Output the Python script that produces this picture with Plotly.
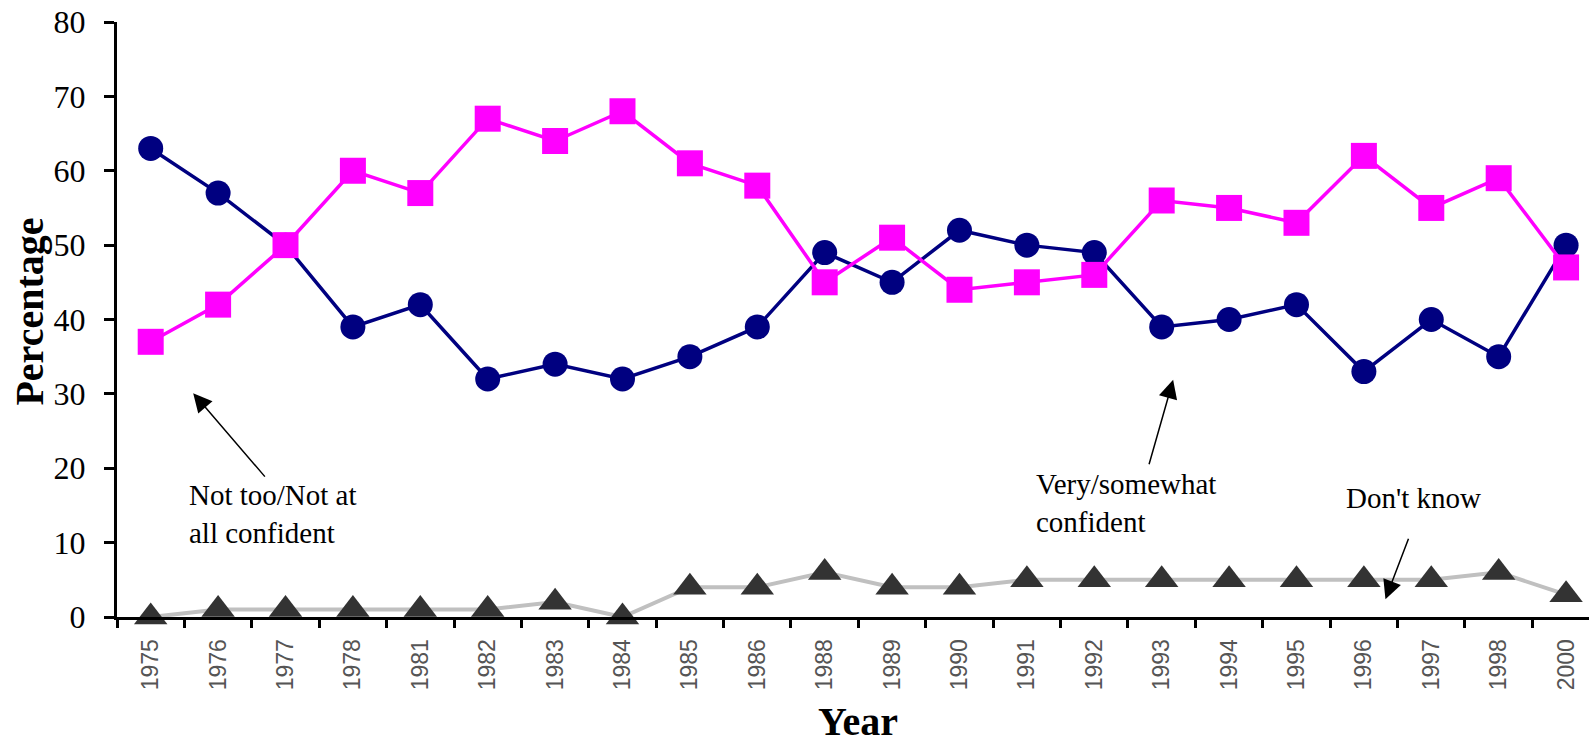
import plotly.graph_objects as go

years = ["1975", "1976", "1977", "1978", "1981", "1982", "1983", "1984", "1985", "1986", "1988",
         "1989", "1990", "1991", "1992", "1993", "1994", "1995", "1996", "1997", "1998", "2000"]
not_confident = [63, 57, 50, 39, 42, 32, 34, 32, 35, 39, 49, 45, 52, 50, 49, 39, 40, 42, 33, 40, 35, 50]
confident = [37, 42, 50, 60, 57, 67, 64, 68, 61, 58, 45, 51, 44, 45, 46, 56, 55, 53, 62, 55, 59, 47]
dont_know = [0, 1, 1, 1, 1, 1, 2, 0, 4, 4, 6, 4, 4, 5, 5, 5, 5, 5, 5, 5, 6, 3]
y_ticks = [0, 10, 20, 30, 40, 50, 60, 70, 80]

SERIF = "Liberation Serif, Times New Roman, serif"
SANS = "Liberation Sans, Arial, sans-serif"

fig = go.Figure()
fig.add_trace(go.Scatter(x=years, y=not_confident, mode="lines+markers",
                         line=dict(color="#000080", width=3.5),
                         marker=dict(symbol="circle", size=25, color="#000080"),
                         cliponaxis=False, name="Not too/Not at all confident"))
fig.add_trace(go.Scatter(x=years, y=confident, mode="lines+markers",
                         line=dict(color="#FF00FF", width=3.5),
                         marker=dict(symbol="square", size=26, color="#FF00FF"),
                         cliponaxis=False, name="Very/somewhat confident"))
fig.add_trace(go.Scatter(x=years, y=dont_know, mode="lines+markers",
                         line=dict(color="#C0C0C0", width=4),
                         marker=dict(symbol="triangle-up", size=29, color="#333333"),
                         cliponaxis=False, name="Don't know"))

annotations = [
    # text labels
    dict(x=0.54, y=13.9, xref="x", yref="y", text="Not too/Not at<br>all confident",
         showarrow=False, xanchor="left", yanchor="middle", align="left",
         font=dict(family=SERIF, size=29, color="black")),
    dict(x=13.10, y=15.3, xref="x", yref="y", text="Very/somewhat<br>confident",
         showarrow=False, xanchor="left", yanchor="middle", align="left",
         font=dict(family=SERIF, size=29, color="black")),
    dict(x=17.71, y=16.0, xref="x", yref="y", text="Don't know",
         showarrow=False, xanchor="left", yanchor="middle", align="left",
         font=dict(family=SERIF, size=29, color="black")),
    # arrows
    dict(x=0.63, y=30.1, xref="x", yref="y", text="", showarrow=True,
         ax=73, ay=85, arrowhead=2, arrowsize=2.5, arrowwidth=1.5, arrowcolor="black"),
    dict(x=15.17, y=31.9, xref="x", yref="y", text="", showarrow=True,
         ax=-24.5, ay=86, arrowhead=2, arrowsize=2.5, arrowwidth=1.5, arrowcolor="black"),
    dict(x=18.32, y=2.4, xref="x", yref="y", text="", showarrow=True,
         ax=23.6, ay=-62, arrowhead=2, arrowsize=2.5, arrowwidth=1.5, arrowcolor="black"),
    # axis titles
    dict(x=-0.0595, y=0.514, xref="paper", yref="paper", text="<b>Percentage</b>",
         showarrow=False, textangle=-90, xanchor="center", yanchor="middle",
         font=dict(family=SERIF, size=40, color="black")),
    dict(x=0.5034, y=-0.176, xref="paper", yref="paper", text="<b>Year</b>",
         showarrow=False, xanchor="center", yanchor="middle",
         font=dict(family=SERIF, size=40, color="black")),
]

fig.update_layout(
    width=1589, height=747,
    margin=dict(l=117, r=0, t=22, b=130),
    paper_bgcolor="white", plot_bgcolor="white",
    showlegend=False,
    annotations=annotations,
    xaxis=dict(type="category", categoryorder="array", categoryarray=years,
               range=[-0.5, 21.34], showgrid=False, zeroline=False, automargin=False,
               showline=True, linecolor="black", linewidth=3,
               ticks="outside", tickson="boundaries", ticklen=8, tickwidth=3, tickcolor="black",
               tickangle=-90, ticklabelstandoff=10, ticklabeloverflow="allow",
               tickfont=dict(family=SANS, size=23, color="#555555")),
    yaxis=dict(range=[0, 80], tickvals=y_ticks, showgrid=False, zeroline=False, automargin=False,
               showline=True, linecolor="black", linewidth=3,
               ticks="outside", ticklen=10, tickwidth=3, tickcolor="black",
               ticklabelstandoff=12, ticklabeloverflow="allow",
               tickfont=dict(family=SERIF, size=32, color="black")),
)

# remove the default 8px page margin so the figure fills the window exactly
fig.write_html("out.html", config={"displayModeBar": False},
               post_script="document.body.style.margin='0';document.body.style.overflow='hidden';")
